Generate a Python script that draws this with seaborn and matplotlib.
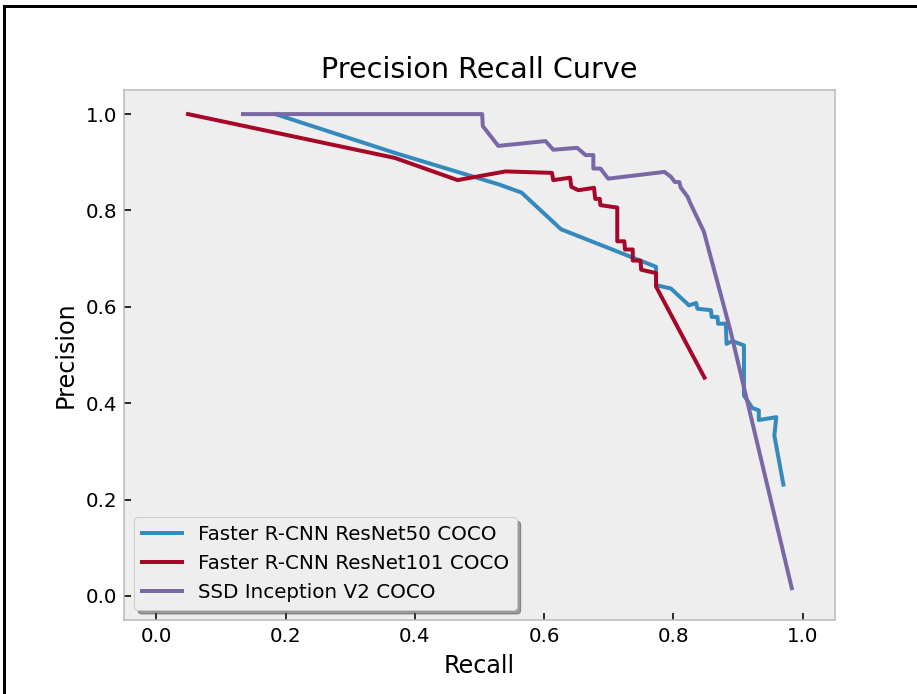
import matplotlib
matplotlib.use("Agg")
import matplotlib.pyplot as plt
from matplotlib.lines import Line2D
import seaborn as sns
import pandas as pd

labels = ["Faster R-CNN ResNet50 COCO", "Faster R-CNN ResNet101 COCO", "SSD Inception V2 COCO"]
colors = ["#348ABD", "#A60628", "#7A68A6"]

r50_recall = [0.184, 0.370, 0.530, 0.565, 0.626, 0.773, 0.773, 0.796, 0.824, 0.835, 0.837,
              0.858, 0.859, 0.868, 0.869, 0.881, 0.882, 0.891, 0.909, 0.909, 0.922, 0.932,
              0.932, 0.959, 0.956, 0.970]
r50_precision = [1.000, 0.919, 0.854, 0.837, 0.761, 0.683, 0.645, 0.638, 0.603, 0.608, 0.596,
                 0.593, 0.579, 0.579, 0.565, 0.565, 0.523, 0.529, 0.520, 0.416, 0.390, 0.385,
                 0.365, 0.371, 0.333, 0.231]

r101_recall = [0.049, 0.369, 0.466, 0.540, 0.612, 0.614, 0.640, 0.642, 0.653, 0.677, 0.679,
               0.686, 0.687, 0.713, 0.713, 0.724, 0.725, 0.737, 0.737, 0.749, 0.750, 0.773,
               0.773, 0.848]
r101_precision = [1.000, 0.909, 0.863, 0.881, 0.878, 0.863, 0.868, 0.849, 0.842, 0.847, 0.824,
                  0.824, 0.811, 0.806, 0.736, 0.736, 0.719, 0.719, 0.696, 0.696, 0.677, 0.670,
                  0.642, 0.453]

ssd_recall = [0.134, 0.504, 0.505, 0.529, 0.602, 0.614, 0.651, 0.664, 0.676, 0.676, 0.687,
              0.699, 0.786, 0.796, 0.802, 0.809, 0.811, 0.822, 0.825, 0.847, 0.888, 0.983]
ssd_precision = [1.000, 1.000, 0.975, 0.934, 0.944, 0.926, 0.930, 0.915, 0.915, 0.887, 0.887,
                 0.866, 0.880, 0.870, 0.859, 0.859, 0.848, 0.828, 0.818, 0.756, 0.551, 0.016]

series = [(r50_recall, r50_precision), (r101_recall, r101_precision), (ssd_recall, ssd_precision)]

plt.style.use("bmh")
plt.rcParams["font.family"] = ["DejaVu Sans"]

fig = plt.figure(figsize=(6.4, 694 / 143.3), dpi=143.3)
fig.patch.set_facecolor("white")
ax = fig.add_axes([124 / 917, 1 - 620 / 694, 711 / 917, 530 / 694])

for (rx, py), lab, col in zip(series, labels, colors):
    df = pd.DataFrame({"Recall": rx, "Precision": py})
    sns.lineplot(data=df, x="Recall", y="Precision", sort=False, estimator=None,
                 color=col, label=lab, linewidth=2.0, ax=ax)

ax.grid(False)
ax.set_xlim(-0.05, 1.05)
ax.set_ylim(-0.05, 1.05)
ax.set_xticks([0.0, 0.2, 0.4, 0.6, 0.8, 1.0])
ax.set_yticks([0.0, 0.2, 0.4, 0.6, 0.8, 1.0])
ax.tick_params(direction="in", color="black", labelcolor="black")
ax.set_title("Precision Recall Curve")
ax.set_xlabel("Recall", color="black")
ax.set_ylabel("Precision", color="black")
ax.legend(loc="lower left", shadow=True, fancybox=True)

# figure frame border (visible on left and top)
fig.add_artist(Line2D([4 / 917, 4 / 917], [0, 1 - 6 / 694], transform=fig.transFigure,
                      color="black", linewidth=1.5))
fig.add_artist(Line2D([4 / 917, 1], [1 - 6 / 694, 1 - 6 / 694], transform=fig.transFigure,
                      color="black", linewidth=1.5))

fig.savefig("out.png", dpi=143.3)
